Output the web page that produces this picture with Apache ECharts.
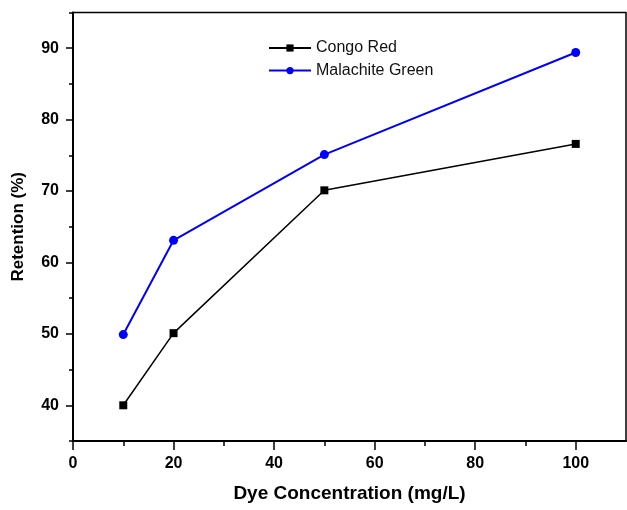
<!DOCTYPE html>
<html>
<head>
<meta charset="utf-8">
<script src="https://cdn.jsdelivr.net/npm/echarts@6/dist/echarts.min.js"></script>
<style>
html,body{margin:0;padding:0;background:#fff;}
#chart{width:627px;height:510px;}
</style>
</head>
<body>
<div id="chart"></div>
<script>
var concentrations = [10, 20, 50, 100];
var congoRed = [40.0, 50.1, 70.1, 76.6];
var malachiteGreen = [49.9, 63.1, 75.1, 89.4];
var xLabelTicks = [0, 20, 40, 60, 80, 100];
var xMinorTicks = [10, 30, 50, 70, 90];
var yLabelTicks = [40, 50, 60, 70, 80, 90];
var yMinorTicks = [35, 45, 55, 65, 75, 85, 95];

var FONT = 'Liberation Sans, Arial, sans-serif';
var chart = echarts.init(document.getElementById('chart'), null, {renderer: 'canvas'});

function pairs(xs, ys) { return xs.map(function (x, i) { return [x, ys[i]]; }); }

var axisLineStyle = {color: '#000', width: 2};
chart.setOption({
  animation: false,
  backgroundColor: '#fff',
  grid: {left: 73, top: 12.5, right: 1, bottom: 69, show: true, borderColor: '#000', borderWidth: 1.5, containLabel: false},
  legend: {
    left: 268, top: 40, orient: 'vertical', padding: 0,
    itemWidth: 42, itemHeight: 9, itemGap: 6.6,
    textStyle: {fontFamily: FONT, fontSize: 16, color: '#111'},
    data: ['Congo Red', 'Malachite Green']
  },
  xAxis: [{
    type: 'value', min: 0, max: 110, position: 'bottom',
    name: 'Dye Concentration (mg/L)', nameLocation: 'middle', nameGap: 43,
    nameTextStyle: {fontFamily: FONT, fontSize: 19, fontWeight: 'bold', color: '#000'},
    axisLine: {show: true, lineStyle: axisLineStyle},
    axisTick: {show: true, inside: false, length: 9, customValues: xLabelTicks, lineStyle: {color: '#000', width: 1.5}},
    axisLabel: {customValues: xLabelTicks, margin: 15, fontFamily: FONT, fontSize: 16, fontWeight: 'bold', color: '#000'},
    splitLine: {show: false}
  }, {
    type: 'value', min: 0, max: 110, position: 'bottom',
    axisLine: {show: false},
    axisTick: {show: true, inside: false, length: 5, customValues: xMinorTicks, lineStyle: {color: '#000', width: 1.5}},
    axisLabel: {show: false},
    splitLine: {show: false}
  }],
  yAxis: [{
    type: 'value', min: 35, max: 95, position: 'left',
    name: 'Retention (%)', nameLocation: 'middle', nameGap: 46, nameRotate: 90,
    nameTextStyle: {fontFamily: FONT, fontSize: 17, fontWeight: 'bold', color: '#000'},
    axisLine: {show: true, lineStyle: axisLineStyle},
    axisTick: {show: true, inside: false, length: 7, customValues: yLabelTicks, lineStyle: {color: '#000', width: 1.5}},
    axisLabel: {customValues: yLabelTicks, margin: 14, fontFamily: FONT, fontSize: 16, fontWeight: 'bold', color: '#000'},
    splitLine: {show: false}
  }, {
    type: 'value', min: 35, max: 95, position: 'left',
    axisLine: {show: false},
    axisTick: {show: true, inside: false, length: 4, customValues: yMinorTicks, lineStyle: {color: '#000', width: 1.5}},
    axisLabel: {show: false},
    splitLine: {show: false}
  }],
  series: [{
    name: 'Congo Red', type: 'line', data: pairs(concentrations, congoRed),
    symbol: 'rect', symbolSize: 8,
    lineStyle: {color: '#000', width: 1.5},
    itemStyle: {color: '#000'}
  }, {
    name: 'Malachite Green', type: 'line', data: pairs(concentrations, malachiteGreen),
    symbol: 'circle', symbolSize: 9,
    lineStyle: {color: '#0000ff', width: 2},
    itemStyle: {color: '#0000ff'}
  }]
});
</script>
</body>
</html>
